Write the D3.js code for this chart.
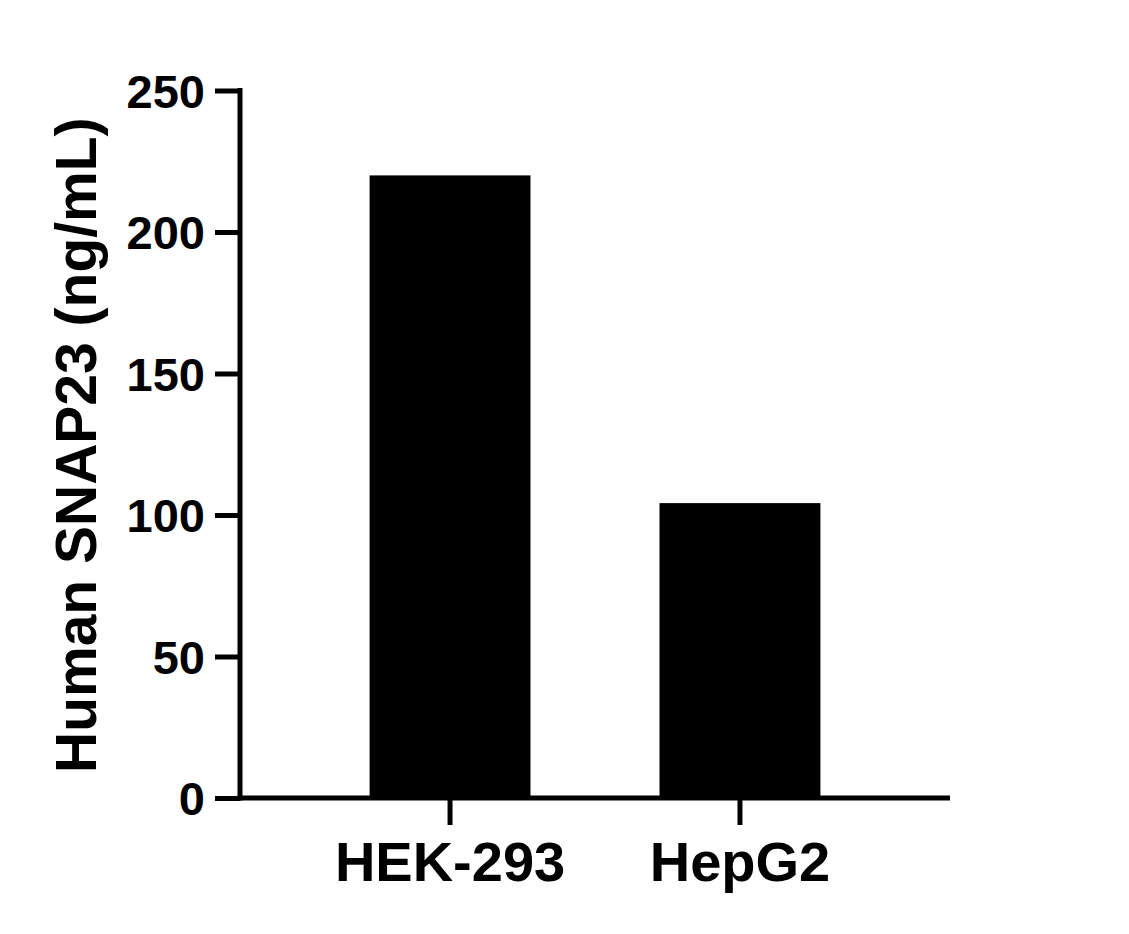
<!DOCTYPE html>
<html>
<head>
<meta charset="utf-8">
<script src="https://cdn.jsdelivr.net/npm/d3@7"></script>
<style>
  body { margin: 0; background: #fff; }
  svg { display: block; }
  text { font-family: "Liberation Sans", Arial, sans-serif; font-weight: bold; fill: #000; }
</style>
</head>
<body>
<div id="chart"></div>
<script>
// data
const categories = ['HEK-293', 'HepG2'];
const values = [220, 104.2];
const yTicks = [0, 50, 100, 150, 200, 250];
const yTitle = 'Human SNAP23 (ng/mL)';

const width = 1129;
const height = 934;

const area = { left: 240, right: 950, top: 90.5, bottom: 798 };

const svg = d3.select('#chart')
  .append('svg')
  .attr('width', width)
  .attr('height', height);

const xScale = d3.scaleBand()
  .domain(categories)
  .range([area.left, area.right])
  .paddingInner(0.445)
  .paddingOuter(0.447);

const yScale = d3.scaleLinear()
  .domain([0, 250])
  .range([area.bottom, area.top]);

// bars
svg.append('g')
  .selectAll('rect')
  .data(categories.map((c, i) => ({ cat: c, value: values[i] })))
  .join('rect')
  .attr('x', (d) => xScale(d.cat))
  .attr('y', (d) => yScale(d.value))
  .attr('width', xScale.bandwidth())
  .attr('height', (d) => yScale(0) - yScale(d.value))
  .attr('fill', '#000');

// y axis
const yAxis = svg.append('g')
  .attr('transform', `translate(${area.left}, 0)`)
  .call(d3.axisLeft(yScale).tickValues(yTicks).tickSize(25).tickPadding(10).tickSizeOuter(0));
yAxis.select('.domain').attr('stroke-width', 5).attr('d', `M0,${area.top - 2.5}V${area.bottom + 2.5}`);
yAxis.selectAll('.tick line').attr('stroke-width', 5);
yAxis.selectAll('.tick text').style('font-size', '47px').attr('dy', '0.36em');

// x axis
const xAxis = svg.append('g')
  .attr('transform', `translate(0, ${area.bottom})`)
  .call(d3.axisBottom(xScale).tickSize(27).tickPadding(16).tickSizeOuter(0));
xAxis.select('.domain').attr('stroke-width', 5).attr('d', `M${area.left - 2.5},0H${area.right}`);
xAxis.selectAll('.tick line').attr('stroke-width', 5);
xAxis.selectAll('.tick text').style('font-size', '56px');

// y title
svg.append('text')
  .attr('transform', `translate(96, ${(area.top + area.bottom) / 2 + 1}) rotate(-90)`)
  .attr('text-anchor', 'middle')
  .style('font-size', '57px')
  .text(yTitle);
</script>
</body>
</html>
